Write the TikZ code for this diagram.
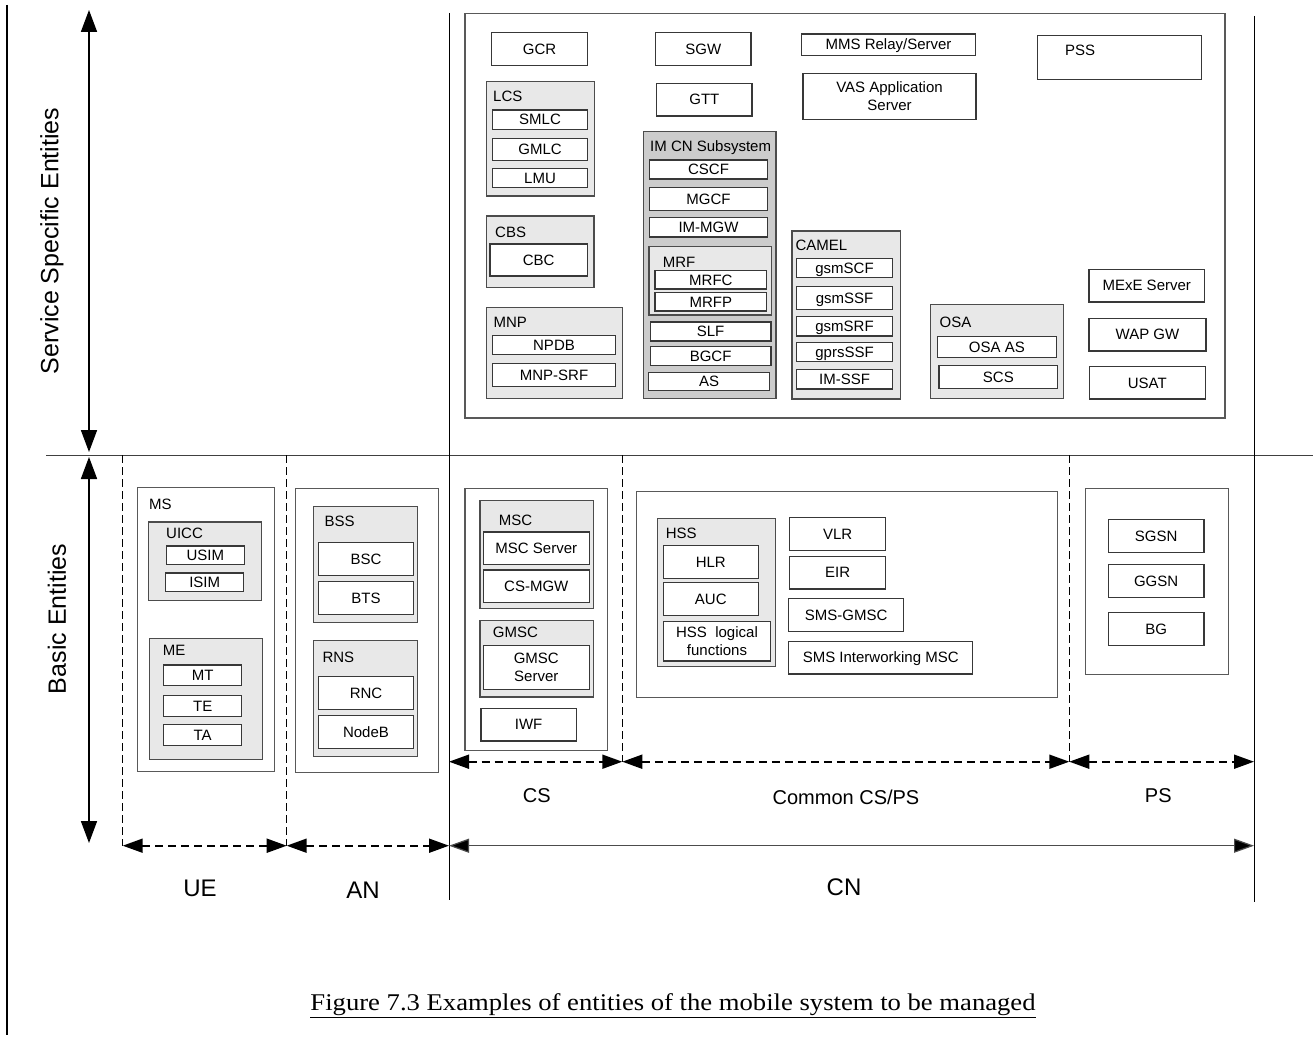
\documentclass[tikz,border=0pt]{standalone}
\usepackage{fontspec}
\setmainfont{Liberation Sans}
\newfontfamily\capfont{Liberation Serif}
\usetikzlibrary{arrows.meta}

% box given by its corners: [style]{name}{x1}{y1}{x2}{y2}{text}
\newcommand\bx[7][]{%
  \node[ebox,#1,minimum width={#5pt-#3pt},minimum height={#6pt-#4pt}]
    (#2) at ({(#3+#5)/2},{(#4+#6)/2}) {#7};}
% group title, placed by its baseline start
\newcommand\glab[4]{\node[glabel] (#1) at (#2,#3) {#4};}

\begin{document}
\begin{tikzpicture}[x=1pt,y=-1pt,
  ebox/.style={draw=black!78,line width=1.2pt,fill=white,inner sep=0pt,
    font=\fontsize{15}{18}\selectfont,align=center,text height=10.5pt,text depth=0pt},
  twoline/.style={text height=28.5pt},
  framebox/.style={draw=black!65,line width=1.2pt,fill=white},
  grp/.style={draw=black!70,line width=1.2pt,fill=black!9},
  grpdark/.style={draw=black!70,line width=1.2pt,fill=black!20},
  glabel/.style={inner sep=0pt,anchor=base west,font=\fontsize{15}{18}\selectfont},
  axisarr/.style={line width=1.8pt,{Triangle[length=22pt,width=16pt]}-{Triangle[length=22pt,width=16pt]}},
  spanarr/.style={line width=1.8pt,dash pattern=on 8pt off 5pt,
    {Triangle[length=20pt,width=14pt]}-{Triangle[length=20pt,width=14pt]}},
  cnarr/.style={line width=1.2pt,draw=black!70,
    {Triangle[length=20pt,width=14pt,fill=black]}-{Triangle[length=20pt,width=14pt,fill=black]}},
  sepline/.style={line width=1pt,dash pattern=on 8pt off 4pt},
  divline/.style={line width=1pt,draw=black!75},
  domlab/.style={inner sep=0pt,font=\fontsize{20}{24}\selectfont},
  arealab/.style={inner sep=0pt,font=\fontsize{24}{28}\selectfont},
  sidelab/.style={inner sep=0pt,rotate=90,font=\fontsize{25}{30}\selectfont}]

\useasboundingbox (0,0) rectangle (1315,1041);

% ---------- frame lines ----------
\coordinate (lT) at (7,5);        \coordinate (lB) at (7,1035);
\coordinate (hL) at (46,455);     \coordinate (hR) at (1313,455);
\coordinate (cnT) at (449,13);    \coordinate (cnB) at (449,900);
\coordinate (rT) at (1254,16);    \coordinate (rB) at (1254,902);
\draw[line width=2pt] (lT) -- (lB);
\draw[divline] (hL) -- (hR);
\draw[line width=1pt] (cnT) -- (cnB);
\draw[line width=1pt] (rT) -- (rB);

% ---------- service specific entities ----------
\bx[framebox]{svc}{465}{13.3}{1225}{418}{}
\bx{gcr}{491.7}{32.7}{587.3}{65.7}{GCR}
\bx{sgw}{655.7}{32.7}{751}{65.7}{SGW}
\bx{gtt}{656.7}{83.3}{752}{116}{GTT}

\bx[grp]{lcs}{486.7}{81.7}{594.3}{196}{}
\glab{lcsL}{493}{101}{LCS}
\bx{smlc}{492.7}{110}{587.3}{129.3}{SMLC}
\bx{gmlc}{492.7}{138.3}{587.3}{160.7}{GMLC}
\bx{lmu}{492.7}{168.3}{587.3}{187.3}{LMU}

\bx[grp]{cbs}{486.7}{216}{594}{287.3}{}
\glab{cbsL}{495}{237.3}{CBS}
\bx{cbc}{490}{244}{587.3}{276}{CBC}

\bx[grp]{mnp}{486.7}{307.3}{622.7}{398.3}{}
\glab{mnpL}{493.3}{327}{MNP}
\bx{npdb}{492.7}{335.7}{615.3}{354.7}{NPDB}
\bx{mnpsrf}{492.7}{363.7}{615.3}{386.3}{MNP-SRF}

\bx[grpdark]{imcn}{643.7}{131.3}{776}{398.3}{}
\glab{imcnL}{650}{151}{IM CN Subsystem}
\bx{cscf}{649.3}{160}{767.7}{179}{CSCF}
\bx{mgcf}{649.3}{187.7}{767.7}{210.3}{MGCF}
\bx{immgw}{649.3}{217.7}{767.7}{237}{IM-MGW}
\bx[grp]{mrf}{649}{246.7}{771.7}{315}{}
\glab{mrfL}{662.7}{267}{MRF}
\bx{mrfc}{655}{270.7}{766.7}{289}{MRFC}
\bx{mrfp}{655}{292.7}{766.7}{311}{MRFP}
\bx{slf}{650.3}{322}{771}{341}{SLF}
\bx{bgcf}{650.3}{346.7}{771}{365.7}{BGCF}
\bx{as}{648.7}{372.3}{769.3}{390.7}{AS}

\bx{mms}{801.6}{34}{975.5}{55.3}{MMS Relay/Server}
\bx[twoline]{vas}{803}{73.3}{976}{119.3}{VAS Application\\Server}
\bx{pss}{1037.5}{35.7}{1201.8}{79.3}{}
\node[inner sep=0pt,font=\fontsize{15}{18}\selectfont] (pssL) at (1080,50.7) {PSS};

\bx[grp]{camel}{792}{231}{900.7}{399}{}
\glab{camelL}{795.4}{250.3}{CAMEL}
\bx{gsmscf}{796.5}{258.7}{892.5}{277.7}{gsmSCF}
\bx{gsmssf}{796.5}{286.7}{892.5}{309.3}{gsmSSF}
\bx{gsmsrf}{796.5}{316.7}{892.5}{336}{gsmSRF}
\bx{gprsssf}{796.5}{342.3}{892.5}{361.7}{gprsSSF}
\bx{imssf}{796.5}{369.7}{892.5}{389}{IM-SSF}

\bx[grp]{osa}{930.5}{304.3}{1063.6}{398.3}{}
\glab{osaL}{939.5}{327}{OSA}
\bx{osaas}{937.4}{336.3}{1056.4}{357.3}{OSA AS}
\bx{scs}{939}{365.3}{1057.8}{388.3}{SCS}

\bx{mexe}{1089}{269.3}{1204.5}{302}{MExE Server}
\bx{wap}{1089}{318.3}{1206}{351}{WAP GW}
\bx{usat}{1089.3}{366.7}{1205.2}{399}{USAT}

% ---------- basic entities ----------
\bx[framebox]{ms}{137.3}{487.3}{274.3}{771.7}{}
\glab{msL}{149}{509.6}{MS}
\bx[grp]{uicc}{148.7}{522}{261.3}{600.3}{}
\glab{uiccL}{166}{538.6}{UICC}
\bx{usim}{166.3}{546}{244.3}{564.7}{USIM}
\bx{isim}{165.7}{573}{243.7}{591.7}{ISIM}
\bx[grp]{me}{149.3}{638.7}{262.3}{759.3}{}
\glab{meL}{162.7}{655.3}{ME}
\bx{mt}{163.7}{665}{241.7}{685.7}{MT}
\bx{te}{163.7}{695.7}{241.7}{716.3}{TE}
\bx{ta}{163.7}{724.7}{241.7}{745.3}{TA}

\bx[framebox]{an}{295.7}{488.7}{438.3}{772.3}{}
\bx[grp]{bss}{313.3}{506.7}{417.7}{622.7}{}
\glab{bssL}{324.3}{526.3}{BSS}
\bx{bsc}{318.3}{542.7}{413.7}{575.3}{BSC}
\bx{bts}{318.3}{581.7}{413.7}{614.3}{BTS}
\bx[grp]{rns}{313.3}{640.3}{417.7}{756.7}{}
\glab{rnsL}{322.3}{662}{RNS}
\bx{rnc}{318.3}{676.7}{413.7}{709.3}{RNC}
\bx{nodeb}{318.3}{715.7}{413.7}{748.3}{NodeB}

\bx[framebox]{cs}{465}{488.7}{607.7}{750.3}{}
\bx[grp]{msc}{480}{500.7}{593.3}{608.3}{}
\glab{mscL}{498.7}{525.3}{MSC}
\bx{mscsrv}{483.3}{532}{589.3}{564.3}{MSC Server}
\bx{csmgw}{483.3}{570}{589.3}{602.3}{CS-MGW}
\bx[grp]{gmsc}{480}{620.7}{593.3}{697}{}
\glab{gmscL}{492.7}{637}{GMSC}
\bx[twoline]{gmscsrv}{483.3}{645.7}{589.3}{689.3}{GMSC\\Server}
\bx{iwf}{481}{708.3}{576.3}{741}{IWF}

\bx[framebox]{common}{636.7}{491.7}{1057.3}{697.3}{}
\bx[grp]{hss}{657.3}{518.3}{775.7}{666.7}{}
\glab{hssL}{665.7}{538.6}{HSS}
\bx{hlr}{663.3}{545.3}{758.3}{578.3}{HLR}
\bx{auc}{663.3}{582.7}{758.3}{615.7}{AUC}
\bx[twoline]{hsslf}{663.3}{621.7}{770.7}{661}{HSS\ \ logical\\functions}
\bx{vlr}{789.7}{517.3}{885.7}{550.3}{VLR}
\bx{eir}{789.7}{556.3}{885.7}{589}{EIR}
\bx{smsgmsc}{788.7}{598.3}{903.7}{631.3}{SMS-GMSC}
\bx{smsiw}{788.7}{641.3}{972.7}{674}{SMS Interworking MSC}

\bx[framebox]{ps}{1085.3}{488.7}{1228.3}{674.7}{}
\bx{sgsn}{1108.3}{519.3}{1204}{552.3}{SGSN}
\bx{ggsn}{1108.3}{564.3}{1204}{597.3}{GGSN}
\bx{bg}{1108.3}{612.7}{1204}{645.7}{BG}

% ---------- vertical axis arrows ----------
\coordinate (ssT) at (89,10);  \coordinate (ssB) at (89,452);
\coordinate (beT) at (89,457); \coordinate (beB) at (89,843);
\draw[axisarr] (ssT) -- (ssB);
\draw[axisarr] (beT) -- (beB);
\node[sidelab] (ssLab) at (52,241) {Service Specific Entities};
\node[sidelab] (beLab) at (57,619) {Basic Entities};

% ---------- domain separators and spans ----------
\coordinate (d1T) at (122.7,455);  \coordinate (d1B) at (122.7,845.7);
\coordinate (d2T) at (286.7,455);  \coordinate (d2B) at (286.7,845.7);
\coordinate (d3T) at (622.3,455);  \coordinate (d3B) at (622.3,761.7);
\coordinate (d4T) at (1069.3,455); \coordinate (d4B) at (1069.3,761.7);
\coordinate (cnA) at (449,845.7);  \coordinate (rA) at (1254,845.7);
\coordinate (csA) at (449,761.7);  \coordinate (psA) at (1254,761.7);
\draw[sepline] (d1T) -- (d1B);
\draw[sepline] (d2T) -- (d2B);
\draw[sepline] (d3T) -- (d3B);
\draw[sepline] (d4T) -- (d4B);

\draw[spanarr] (d1B) -- (d2B);
\draw[spanarr] (d2B) -- (cnA);
\draw[cnarr] (cnA) -- (rA);
\draw[spanarr] (csA) -- (d3B);
\draw[spanarr] (d3B) -- (d4B);
\draw[spanarr] (d4B) -- (psA);

\node[domlab] (csLab) at (536.7,796) {CS};
\node[domlab] (cpLab) at (846,797) {Common CS/PS};
\node[domlab] (psLab) at (1158.3,796) {PS};
\node[arealab] (ueLab) at (200,888) {UE};
\node[arealab] (anLab) at (363,890) {AN};
\node[arealab] (cnLab) at (844,887) {CN};

% ---------- caption ----------
\node[inner sep=0pt,anchor=base,font=\capfont\fontsize{24}{28}\selectfont] (caption) at (673,1010.7)
  {\scalebox{1.11}[1]{\underline{Figure 7.3 Examples of entities of the mobile system to be managed}}};

\end{tikzpicture}
\end{document}
